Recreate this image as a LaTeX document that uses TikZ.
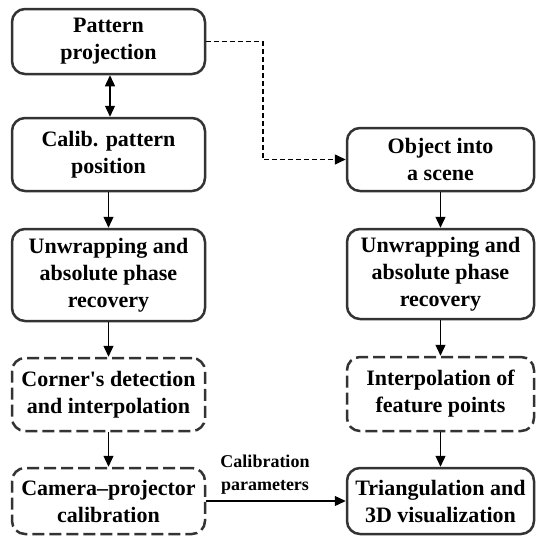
\documentclass[tikz,border=0pt]{standalone}
\usepackage{fontspec}
\setmainfont{Liberation Serif}
\usetikzlibrary{arrows.meta}
\definecolor{boxcolor}{RGB}{51, 51, 51}

\tikzset{
  stage/.style={draw=boxcolor, line width=2.5pt, rounded corners=13pt,
    fill=white, align=center, inner sep=0pt,
    font=\fontsize{22}{27}\selectfont\bfseries},
  leftstage/.style={stage, minimum width=193pt},
  rightstage/.style={stage, minimum width=187pt},
  aux/.style={dash pattern=on 12pt off 5pt},
  flow/.style={-{Triangle[length=11pt,width=10pt]}, line width=1.3pt},
}

\begin{document}
\begin{tikzpicture}[x=1pt, y=-1pt]
        \useasboundingbox (0,0) rectangle (537,538);
        % calibration branch (left)
        \node[leftstage, minimum height=65pt] (proj) at (108.5,41.5) {Pattern\\projection};
        \node[leftstage, minimum height=73pt] (calpos) at (108.5,154.5) {Calib. pattern\\position};
        \node[leftstage, minimum height=92pt] (unwrapL) at (108.5,275) {Unwrapping and\\absolute phase\\recovery};
        \node[leftstage, aux, minimum height=73pt] (corner) at (108.5,394.5) {Corner\textquotesingle s detection\\and interpolation};
        \node[leftstage, aux, minimum height=66pt] (calib) at (108.5,501) {Camera--projector\\calibration};
        % measurement branch (right)
        \node[rightstage, minimum height=63pt] (object) at (440.5,159.5) {Object into\\a scene};
        \node[rightstage, minimum height=90pt] (unwrapR) at (440.5,274) {Unwrapping and\\absolute phase\\recovery};
        \node[rightstage, aux, minimum height=74pt] (feature) at (440.5,394) {Interpolation of\\feature points};
        \node[rightstage, minimum height=66pt] (triang) at (440.5,501) {Triangulation and\\3D visualization};
        \coordinate (bendA) at (263,41.5);
        \coordinate (bendB) at (263,159.5);
        % connectors
        \draw[flow, {Triangle[length=11pt,width=10pt]}-{Triangle[length=11pt,width=10pt]}] ([xshift=1.5pt]proj.south) -- ([xshift=1.5pt]calpos.north);
        \draw[flow] (calpos) -- (unwrapL);
        \draw[flow] (unwrapL) -- (corner);
        \draw[flow] (corner) -- (calib);
        \draw[flow] (object) -- (unwrapR);
        \draw[flow] (unwrapR) -- (feature);
        \draw[flow] (feature) -- (triang);
        \draw[flow, line width=1.6pt, dash pattern=on 5pt off 3pt] (proj.east) -- (bendA) -- (bendB) -- (object.west);
        \draw[flow] (calib) -- (triang)
          node[midway, above=3pt, xshift=-11pt, align=center, font=\fontsize{18}{23}\selectfont\bfseries] (calparam) {Calibration\\parameters};
    \end{tikzpicture}
\end{document}
